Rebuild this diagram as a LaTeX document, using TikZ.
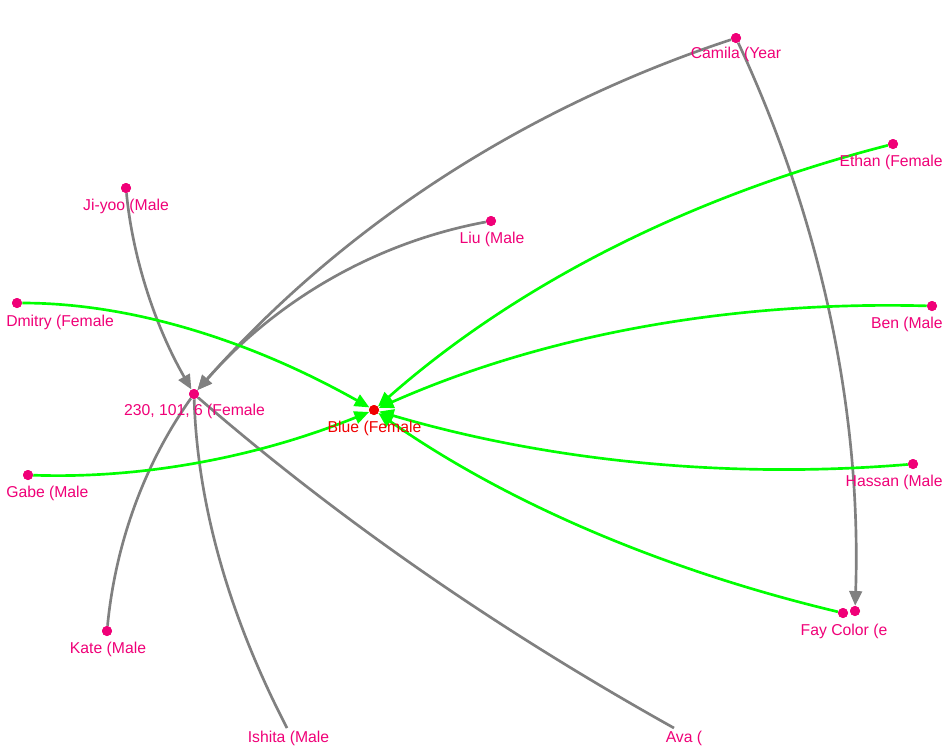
\documentclass[tikz,border=0pt]{standalone}
\usepackage{fontspec}
\setmainfont{Liberation Sans}
\usetikzlibrary{arrows.meta,calc}
\definecolor{pinkdot}{RGB}{240,0,120}
\definecolor{reddot}{RGB}{240,0,0}
\definecolor{edgegreen}{RGB}{0,255,0}
\definecolor{edgegray}{RGB}{128,128,128}
\tikzset{
  dotnode/.style={circle,fill=pinkdot,inner sep=0pt,minimum size=7.5pt},
  reddotnode/.style={circle,fill=reddot,inner sep=0pt,minimum size=7.5pt},
  lbl/.style={text=pinkdot,font=\fontsize{11.8pt}{13pt}\selectfont,inner sep=0pt,anchor=base},
  redlbl/.style={lbl,text=reddot},
  grayedge/.style={draw=edgegray,line width=2pt},
  grayarrow/.style={grayedge,-{Triangle[length=11pt,width=9.5pt]}},
  greenarrow/.style={draw=edgegreen,line width=2pt,-{Triangle[length=11pt,width=9.5pt]}},
}
% quadratic curve through control point #2 from #1 to #3
\newcommand{\qcurve}[4]{%
  \path[#1] (#2) .. controls ($(#2)!0.6667!(#3)$) and ($(#4)!0.6667!(#3)$) .. (#4);}
\begin{document}
\begin{tikzpicture}[x=0.75pt,y=-0.75pt]
\useasboundingbox (0,0) rectangle (950,751);
\fill[white] (0,0) rectangle (950,751);
% nodes (dots)
\node[dotnode] (camila) at (736,38) {};
\node[dotnode] (ethan) at (893,144) {};
\node[dotnode] (jiyoo) at (126,188) {};
\node[dotnode] (liu) at (491,221) {};
\node[dotnode] (dmitry) at (17,303) {};
\node[dotnode] (ben) at (932,306) {};
\node[dotnode] (hub) at (194,394) {};
\node[reddotnode] (blue) at (374,410) {};
\node[dotnode] (gabe) at (28,475) {};
\node[dotnode] (hassan) at (913,464) {};
\node[dotnode] (fayA) at (843,613) {};
\node[dotnode] (fayB) at (855,611) {};
\node[dotnode] (kate) at (107,631) {};
\coordinate (ishita) at (287,728);
\coordinate (ava) at (674,728);
% gray edges
\qcurve{grayarrow}{jiyoo}{136,293}{hub}
\qcurve{grayarrow}{liu}{318,253}{hub}
\qcurve{grayarrow}{camila}{415,144}{hub}
\qcurve{grayarrow}{camila}{865,315}{fayB}
\qcurve{grayedge}{hub}{120,498}{kate}
\qcurve{grayedge}{hub}{199,558}{ishita}
\qcurve{grayedge}{hub}{407,579}{ava}
% green edges
\qcurve{greenarrow}{dmitry}{184,303}{blue}
\qcurve{greenarrow}{gabe}{199,481}{blue}
\qcurve{greenarrow}{ethan}{586,223}{blue}
\qcurve{greenarrow}{ben}{627,298}{blue}
\qcurve{greenarrow}{hassan}{636,487}{blue}
\qcurve{greenarrow}{fayA}{571,548}{blue}
% redraw dots on top
\foreach \n in {camila,ethan,jiyoo,liu,dmitry,ben,hub,gabe,hassan,fayA,fayB,kate}
  \fill[pinkdot] (\n) circle (3.75pt);
\fill[reddot] (blue) circle (3.75pt);
% labels
\node[lbl] (lcamila) at (736,58) {Camila (Year};
\node[lbl,anchor=base east] (lethan) at (943,166) {Ethan (Female};
\node[lbl] (ljiyoo) at (126,210) {Ji-yoo (Male};
\node[lbl] (lliu) at (492,243) {Liu (Male};
\node[lbl,anchor=base west] (ldmitry) at (6,326) {Dmitry (Female};
\node[lbl,anchor=base east] (lben) at (943,328) {Ben (Male};
\node[lbl] (lhub) at (194.5,415) {230, 101, 6 (Female};
\node[redlbl] (lblue) at (374.5,432) {Blue (Female};
\node[lbl,anchor=base west] (lgabe) at (6,497) {Gabe (Male};
\node[lbl,anchor=base east] (lhassan) at (943,486) {Hassan (Male};
\node[lbl] (lfay) at (844,635) {Fay Color (e};
\node[lbl] (lkate) at (108,653) {Kate (Male};
\node[lbl] (lishita) at (288.5,742) {Ishita (Male};
\node[lbl] (lava) at (684,742) {Ava (};
\end{tikzpicture}
\end{document}
